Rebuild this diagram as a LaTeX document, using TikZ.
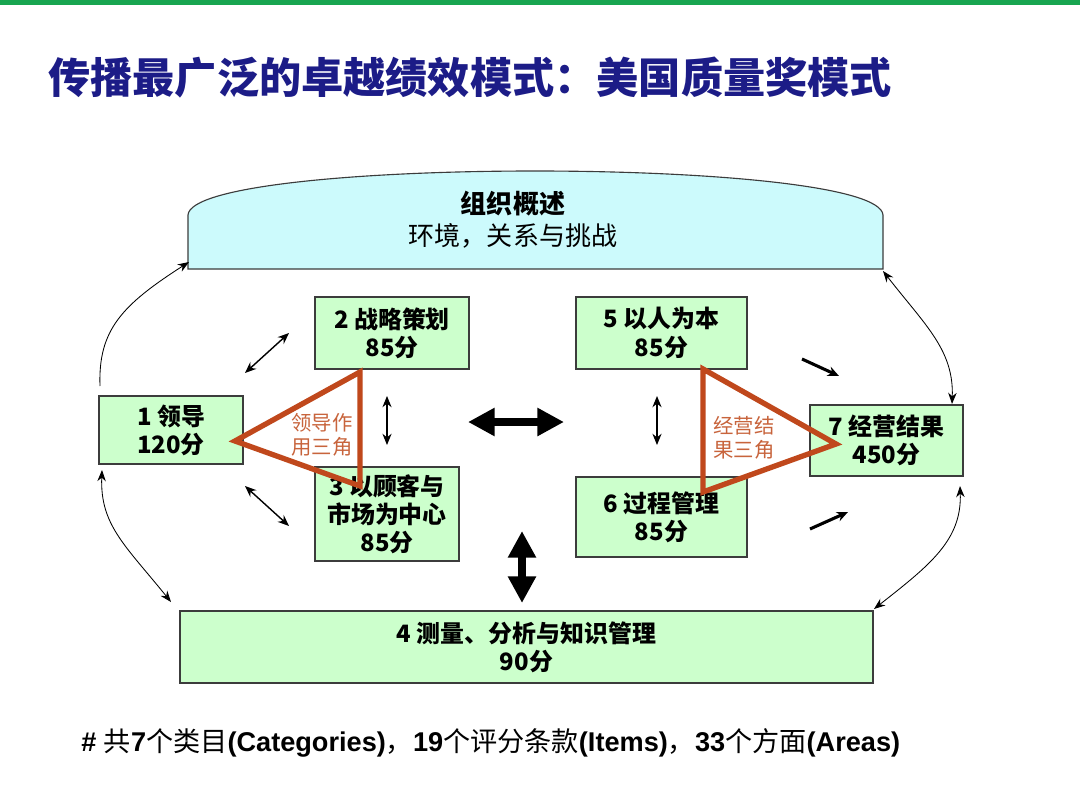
\documentclass[tikz,border=0pt]{standalone}
\usepackage{fontspec}
\setmainfont{Noto Sans CJK SC}
\newfontfamily\lat{Liberation Sans}
\usetikzlibrary{arrows.meta}
\definecolor{boxgreen}{RGB}{204,255,204}
\definecolor{orgcyan}{RGB}{204,250,252}
\definecolor{titleblue}{RGB}{28,28,135}
\definecolor{barg}{RGB}{24,165,80}
\definecolor{tri}{RGB}{192,72,28}
\definecolor{tritext}{RGB}{200,100,60}
\definecolor{edgegray}{RGB}{60,60,60}
\tikzset{
  box/.style={draw=edgegray, line width=1pt, fill=boxgreen, inner sep=0pt, align=center,
    font=\fontsize{17}{20}\selectfont\bfseries},
  thinarrow/.style={line width=1pt, {Stealth[length=8pt,width=6.5pt]}-{Stealth[length=8pt,width=6.5pt]}},
  curvearrow/.style={line width=0.6pt, -{Stealth[length=8pt,width=6pt]}},
  curvedouble/.style={line width=0.6pt, {Stealth[length=8pt,width=6pt]}-{Stealth[length=8pt,width=6pt]}},
  boldarrow/.style={line width=2.2pt, -{Stealth[length=8pt,width=7pt]}},
  bigarrow/.style={line width=5pt, {Triangle[length=19pt,width=19pt]}-{Triangle[length=19pt,width=19pt]}},
  triline/.style={draw=tri, line width=3.8pt, line join=miter},
  trilabel/.style={text=tritext, align=center, font=\fontsize{14.5}{17}\selectfont, inner sep=0pt}
}
\begin{document}
\begin{tikzpicture}[x=0.025cm,y=-0.025cm]
\useasboundingbox (0,0) rectangle (1080,809);
\fill[white] (0,0) rectangle (1080,809);
\fill[barg] (0,0) rectangle (1080,5);

% title
\node[anchor=west, text=titleblue, inner sep=0pt, font=\fontsize{30}{34}\selectfont\bfseries] (title) at (48,78) {传播最广泛的卓越绩效模式：美国质量奖模式};

% organization overview
\draw[draw=edgegray, line width=0.8pt, fill=orgcyan] (188,269) -- (188,215)
  .. controls (190,186) and (360,171) .. (535,171)
  .. controls (710,171) and (881,186) .. (883,215) -- (883,269) -- cycle;
\node[align=center, inner sep=0pt, font=\fontsize{18.5}{23}\selectfont] (org) at (513,220)
  {\textbf{组织概述}\\环境，关系与挑战};
\coordinate (orgBL) at (189,262);
\coordinate (orgBR) at (883,271);

% boxes
\node[box, minimum width=3.6cm, minimum height=1.7cm] (b1) at (171,430) {1 领导\\120分};
\node[box, minimum width=3.85cm, minimum height=1.8cm] (b2) at (392,333) {2 战略策划\\85分};
\node[box, minimum width=3.6cm, minimum height=2.35cm] (b3) at (387,514) {3 以顾客与\\市场为中心\\85分};
\node[box, minimum width=4.275cm, minimum height=1.8cm] (b5) at (661.5,333) {5 以人为本\\85分};
\node[box, minimum width=4.275cm, minimum height=2.0cm] (b6) at (661.5,517) {6 过程管理\\85分};
\node[box, minimum width=3.825cm, minimum height=1.775cm] (b7) at (886.5,440.5) {7 经营结果\\450分};
\node[box, minimum width=17.325cm, minimum height=1.8cm] (b4) at (526.5,647) {4 测量、分析与知识管理\\90分};

% triangles
\coordinate (t1a) at (235,441);
\coordinate (t1b) at (360,372);
\coordinate (t1c) at (360,486);
\draw[triline] (t1a) -- (t1b) -- (t1c) -- cycle;
\node[trilabel] (tl1) at (322,435) {领导作\\用三角};
\coordinate (t2a) at (703,369);
\coordinate (t2b) at (703,492);
\coordinate (t2c) at (836,444);
\draw[triline] (t2a) -- (t2b) -- (t2c) -- cycle;
\node[trilabel] (tl2) at (744,438) {经营结\\果三角};

% small double arrows
\coordinate (a12s) at (245,373); \coordinate (a12e) at (289,333);
\draw[thinarrow] (a12s) -- (a12e);
\coordinate (a13s) at (245,486); \coordinate (a13e) at (289,526);
\draw[thinarrow] (a13s) -- (a13e);
\coordinate (a23s) at (387,396); \coordinate (a23e) at (387,445);
\draw[thinarrow] (a23s) -- (a23e);
\coordinate (a56s) at (657,396); \coordinate (a56e) at (657,445);
\draw[thinarrow] (a56s) -- (a56e);

% bold arrows to results
\coordinate (a57s) at (802,359); \coordinate (a57e) at (839,376);
\draw[boldarrow] (a57s) -- (a57e);
\coordinate (a67s) at (810,529); \coordinate (a67e) at (848,512);
\draw[boldarrow] (a67s) -- (a67e);

% big arrows
\coordinate (hL) at (468,422); \coordinate (hR) at (564,422);
\draw[bigarrow] (hL) -- (hR);
\coordinate (vT) at (522,531); \coordinate (vB) at (522,603);
\draw[bigarrow] (vT) -- (vB);

% curved arrows
\coordinate (c1s) at (100,386);
\draw[curvearrow] (c1s) .. controls (98,330) and (122,305) .. (orgBL);
\coordinate (c2s) at (102,470); \coordinate (c2e) at (171,602);
\draw[curvedouble] (c2s) .. controls (100,525) and (125,545) .. (c2e);
\coordinate (c3e) at (952,404);
\draw[curvedouble] (orgBR) .. controls (925,325) and (954,350) .. (c3e);
\coordinate (c4s) at (960,486); \coordinate (c4e) at (874,609);
\draw[curvedouble] (c4s) .. controls (962,540) and (930,565) .. (c4e);

% footer
\node[anchor=west, inner sep=0pt, font=\fontsize{19.3}{22}\selectfont] (foot) at (81,743)
  {{\lat\bfseries \#\ }共{\lat\bfseries 7}个类目{\lat\bfseries (Categories)}，{\lat\bfseries 19}个评分条款{\lat\bfseries (Items)}，{\lat\bfseries 33}个方面{\lat\bfseries (Areas)}};
\end{tikzpicture}
\end{document}
